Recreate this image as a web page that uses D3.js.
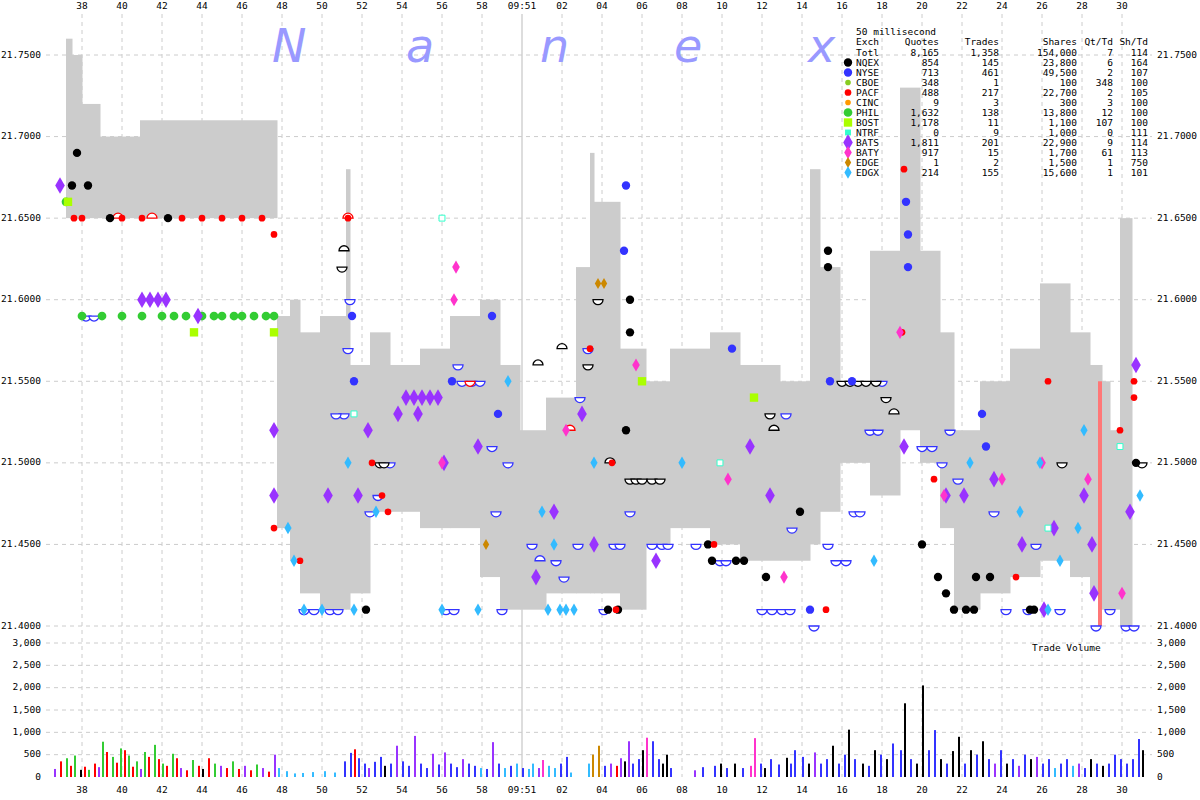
<!DOCTYPE html>
<html><head><meta charset="utf-8">
<script src="https://cdn.jsdelivr.net/npm/d3@7"></script>
<style>body{margin:0;background:#fff}text{font-family:"DejaVu Sans Mono",monospace;font-size:9.5px}</style>
</head><body><svg id="c" width="1200" height="800"></svg>
<script>
// time in seconds after 09:50:00
const tickVals = [38,40,42,44,46,48,50,52,54,56,58,60,62,64,66,68,70,72,74,76,78,80,82,84,86,88,90];
const tickLabels = ["38","40","42","44","46","48","50","52","54","56","58","09:51","02","04","06","08","10","12","14","16","18","20","22","24","26","28","30"];
const priceTicks = [21.40,21.45,21.50,21.55,21.60,21.65,21.70,21.75];
const volTicks = [0,500,1000,1500,2000,2500,3000];
// spread band: [t0, t1, bid, ask]
const band = [[37.2,37.5,21.65,21.76],[37.5,38.0,21.65,21.75],[38,38.9,21.65,21.72],[38.9,40.9,21.65,21.70],[40.9,47.75,21.65,21.71],
[47.75,48.4,21.46,21.59],[48.4,48.9,21.44,21.60],[48.9,49.9,21.42,21.58],[49.9,51.2,21.41,21.59],[51.2,51.4,21.41,21.68],[51.4,52.4,21.42,21.56],
[52.4,53.4,21.47,21.58],[53.4,54.9,21.47,21.56],[54.9,56.4,21.46,21.57],[56.4,57.9,21.46,21.59],[57.9,58.9,21.43,21.60],[58.9,59.9,21.41,21.56],
[59.9,61.2,21.41,21.52],[61.2,62.7,21.42,21.54],[62.7,63.4,21.42,21.62],[63.4,63.6,21.42,21.69],[63.6,64.9,21.42,21.66],[64.9,66.2,21.41,21.57],[66.2,67.4,21.45,21.55],
[67.4,69.4,21.46,21.57],[69.4,70.9,21.45,21.58],[70.9,72.9,21.44,21.56],[72.9,74.4,21.44,21.55],[74.4,74.9,21.45,21.68],[74.9,75.9,21.47,21.62],
[75.9,77.4,21.50,21.55],[77.4,78.9,21.48,21.63],[78.9,79.9,21.52,21.73],[79.9,80.9,21.50,21.63],[80.9,81.6,21.46,21.58],[81.6,82.9,21.41,21.52],
[82.9,84.4,21.42,21.55],[84.4,85.9,21.43,21.57],[85.9,87.4,21.44,21.61],[87.4,88.4,21.43,21.58],[88.4,89.0,21.42,21.56],[89.0,89.4,21.41,21.55],
[89.4,89.9,21.41,21.52],[89.9,90.5,21.40,21.65]];
const nqexT = [[37.5,21.67],[37.75,21.69],[38.3,21.67],[39.4,21.65],[42.3,21.65],[52.2,21.41],[64.3,21.41],[64.8,21.41],[65.4,21.60],[65.4,21.58],[65.2,21.52],
[69.3,21.45],[69.5,21.44],[70.7,21.44],[71.1,21.44],[72.2,21.43],[73.9,21.47],[75.3,21.63],[75.3,21.62],[80.0,21.45],[80.8,21.43],[81.2,21.42],[81.6,21.41],[82.2,21.41],[82.6,21.41],[82.7,21.43],[83.4,21.43],[85.4,21.41],[85.6,21.41],[90.7,21.50]];
const nyseT = [[51.5,21.59],[51.6,21.55],[58.5,21.59],[56.5,21.55],[58.8,21.53],[65.2,21.67],[65.1,21.63],[70.5,21.57],[75.4,21.55],[76.5,21.55],[79.2,21.66],[79.3,21.64],[79.3,21.62],[83.0,21.53],[83.2,21.51],[74.4,21.41]];
const pacfT = [[37.6,21.65],[38,21.65],[40,21.65],[41,21.65],[43,21.65],[44,21.65],[45,21.65],[46,21.65],[47,21.65],[47.6,21.64],[47.6,21.52],[47.6,21.46],[48.9,21.44],
[51.3,21.65],[52.5,21.50],[53.0,21.48],[53.3,21.47],[63.4,21.57],[64.5,21.50],[64.7,21.41],[69.6,21.45],[75.2,21.41],[79.1,21.68],[79.0,21.58],[80.6,21.49],[84.7,21.43],[86.3,21.55],[89.9,21.52],[90.6,21.55],[90.6,21.54]];
const philT = [[37.2,21.66],[38,21.59],[39,21.59],[40,21.59],[41,21.59],[42,21.59],[42.6,21.59],[43.2,21.59],[44,21.59],[44.6,21.59],[45,21.59],[45.6,21.59],[46,21.59],[46.6,21.59],[47.2,21.59],[47.6,21.59]];
const bostT = [[37.3,21.66],[43.6,21.58],[47.6,21.58],[66.0,21.55],[71.6,21.54]];
const batsT = [[36.9,21.67],[41.0,21.60],[41.4,21.60],[41.8,21.60],[42.2,21.60],[43.8,21.59],[47.6,21.52],[47.6,21.48],[50.3,21.48],[51.8,21.48],[52.3,21.52],[54.2,21.54],[54.6,21.54],[55.0,21.54],[55.4,21.54],[55.8,21.54],
[53.8,21.53],[54.8,21.53],[56.1,21.50],[57.8,21.51],[60.7,21.43],[61.6,21.47],[63.6,21.45],[63.0,21.53],[66.7,21.44],[71.4,21.51],[72.4,21.48],[79.1,21.51],[81.2,21.48],[82.1,21.48],[83.6,21.49],[85.0,21.45],[86.6,21.46],[86.1,21.41],[88.1,21.48],[88.6,21.42],[88.5,21.45],[90.4,21.47],[90.7,21.56]];
const batyT = [[56.7,21.62],[56.6,21.60],[56.0,21.50],[62.2,21.52],[65.7,21.56],[70.3,21.49],[73.1,21.43],[78.9,21.58],[81.1,21.48],[84.0,21.49],[86.0,21.50],[88.3,21.49],[90.0,21.42]];
const edgxT = [[48.3,21.46],[48.6,21.44],[49.1,21.41],[50.0,21.41],[51.6,21.41],[51.3,21.50],[52.7,21.47],[56.0,21.41],[57.8,21.41],[59.3,21.55],[61.0,21.47],[61.3,21.41],[61.6,21.45],[61.9,21.41],[62.2,21.41],[62.6,21.41],[63.6,21.50],[68.0,21.50],
[77.6,21.44],[82.4,21.50],[84.9,21.47],[85.9,21.50],[86.3,21.41],[86.9,21.44],[87.8,21.46],[88.1,21.52],[90.9,21.48]];
const edgeT = [[58.2,21.45],[63.8,21.61],[64.1,21.61]];
const ntrfT = [[56.0,21.65],[51.6,21.53],[69.9,21.50],[86.3,21.46],[89.9,21.51]];
const quotes = [[49.1,21.41,"nyse",1],[49.6,21.41,"nyse",1],[50.4,21.41,"nyse",1],[50.8,21.41,"nyse",1],[51.1,21.53,"nyse",1],[50.7,21.53,"nyse",1],[51.3,21.57,"nyse",1],[51.4,21.60,"nyse",1],
[52.4,21.47,"nyse",1],[52.8,21.48,"nyse",1],[53.4,21.50,"nyse",1],[56.2,21.41,"nyse",1],[56.6,21.41,"nyse",1],[56.8,21.56,"nyse",1],[57.0,21.55,"nyse",1],[57.5,21.55,"nyse",1],[57.9,21.55,"nyse",1],
[58.5,21.51,"nyse",1],[58.7,21.47,"nyse",1],[59.0,21.41,"nyse",1],[59.3,21.50,"nyse",1],[60.5,21.45,"nyse",1],[60.9,21.44,"nyse",-1],[61.7,21.44,"nyse",1],[62.1,21.43,"nyse",1],
[62.8,21.45,"nyse",1],[62.9,21.54,"nyse",1],[63.3,21.57,"nyse",1],[64.1,21.41,"nyse",1],[64.6,21.45,"nyse",1],[64.9,21.45,"nyse",1],[65.4,21.47,"nyse",1],[66.5,21.45,"nyse",1],[67.0,21.45,"nyse",1],[67.3,21.45,"nyse",1],
[68.7,21.45,"nyse",1],[69.9,21.44,"nyse",1],[70.2,21.44,"nyse",1],[72.0,21.41,"nyse",1],[72.5,21.41,"nyse",1],[73.0,21.41,"nyse",1],[73.4,21.41,"nyse",1],[73.2,21.53,"nyse",1],[73.5,21.46,"nyse",1],[74.6,21.40,"nyse",1],
[75.3,21.45,"nyse",1],[75.7,21.44,"nyse",1],[76.2,21.44,"nyse",1],[76.6,21.47,"nyse",1],[76.9,21.47,"nyse",1],[77.4,21.52,"nyse",1],[77.8,21.52,"nyse",1],[78.0,21.55,"nyse",1],[80.0,21.51,"nyse",1],[80.5,21.51,"nyse",1],[81.0,21.50,"nyse",1],
[81.4,21.52,"nyse",1],[81.8,21.49,"nyse",1],[83.6,21.47,"nyse",1],[84.2,21.41,"nyse",1],[85.3,21.41,"nyse",1],[85.7,21.45,"nyse",1],[86.9,21.41,"nyse",1],[88.7,21.40,"nyse",1],[89.4,21.41,"nyse",1],[90.2,21.40,"nyse",1],[90.6,21.40,"nyse",1],
[38.2,21.59,"nyse",1],[38.6,21.59,"nyse",1],
[51.0,21.62,"nqex",1],[51.1,21.63,"nqex",-1],[52.9,21.50,"nqex",1],[53.1,21.50,"nqex",1],[60.8,21.56,"nqex",-1],[62.0,21.57,"nqex",-1],[63.8,21.60,"nqex",1],[63.3,21.56,"nqex",1],[64.4,21.50,"nqex",-1],[65.4,21.49,"nqex",1],[65.7,21.49,"nqex",1],[66.0,21.49,"nqex",1],[66.5,21.49,"nqex",1],[66.9,21.49,"nqex",1],
[76.0,21.55,"nqex",1],[76.4,21.55,"nqex",1],[76.8,21.55,"nqex",1],[77.2,21.55,"nqex",1],[77.7,21.55,"nqex",1],[78.2,21.54,"nqex",1],[78.6,21.53,"nqex",-1],[72.4,21.53,"nqex",1],[72.6,21.52,"nqex",-1],[87.0,21.50,"nqex",1],[91.0,21.50,"nqex",1],
[39.8,21.65,"pacf",-1],[41.5,21.65,"pacf",-1],[51.3,21.65,"pacf",-1],[62.4,21.52,"pacf",-1],[57.4,21.55,"pacf",1]];
const volumes = [[36.6,180,"bats"],[36.9,350,"pacf"],[37.2,420,"phil"],[37.4,250,"pacf"],[37.6,480,"phil"],[37.9,160,"nqex"],[38.1,230,"pacf"],[38.3,160,"phil"],[38.6,300,"pacf"],[38.8,220,"bats"],[39.0,790,"phil"],[39.2,560,"pacf"],[39.5,450,"phil"],
[39.7,320,"pacf"],[39.9,640,"phil"],[40.1,600,"pacf"],[40.3,480,"phil"],[40.5,230,"pacf"],[40.7,350,"phil"],[40.9,180,"bats"],[41.1,560,"phil"],[41.3,450,"pacf"],[41.6,720,"phil"],[41.8,400,"pacf"],[42.0,300,"phil"],[42.2,250,"pacf"],
[42.5,520,"phil"],[42.7,420,"pacf"],[42.9,200,"bats"],[43.2,150,"pacf"],[43.5,380,"phil"],[43.8,250,"pacf"],[44.0,180,"nqex"],[44.3,420,"pacf"],[44.6,300,"phil"],[44.9,250,"bats"],[45.2,200,"pacf"],[45.5,350,"phil"],[45.8,180,"pacf"],
[46.1,250,"bats"],[46.4,150,"pacf"],[46.7,280,"phil"],[47.0,200,"bats"],[47.3,120,"pacf"],[47.6,500,"bats"],[47.8,200,"edgx"],[48.2,130,"edgx"],[48.6,80,"edgx"],[49.0,90,"edgx"],[49.5,110,"edgx"],[50.1,130,"edgx"],[50.6,100,"edgx"],
[51.1,350,"nyse"],[51.4,540,"nyse"],[51.6,620,"pacf"],[51.8,420,"nyse"],[52.1,300,"nyse"],[52.3,200,"bats"],[52.6,340,"nyse"],[52.9,450,"nyse"],[53.1,250,"nqex"],[53.4,300,"nyse"],[53.7,700,"bats"],[54.0,350,"nyse"],
[54.3,250,"nyse"],[54.6,920,"bats"],[54.9,300,"nyse"],[55.2,200,"nyse"],[55.5,520,"bats"],[55.8,280,"nyse"],[56.1,550,"bats"],[56.4,300,"nyse"],[56.7,220,"nyse"],[57.0,400,"bats"],[57.3,300,"nyse"],[57.6,250,"nyse"],
[57.9,200,"edgx"],[58.2,180,"nyse"],[58.5,780,"bats"],[58.8,300,"nyse"],[59.1,200,"edgx"],[59.4,250,"nyse"],[59.7,300,"edgx"],[60.0,200,"nyse"],[60.3,180,"edgx"],[60.5,300,"edgx"],[60.8,200,"bats"],[61.0,380,"baty"],
[61.3,250,"edgx"],[61.6,200,"edgx"],[61.9,300,"nyse"],[62.2,450,"nyse"],[62.4,100,"edgx"],[63.3,300,"edgx"],[63.5,500,"edge"],[63.8,700,"edge"],[64.1,250,"nyse"],[64.4,300,"bats"],[64.7,250,"pacf"],[64.9,420,"bats"],[65.1,350,"nqex"],
[65.3,800,"bats"],[65.5,300,"nyse"],[65.8,400,"nyse"],[66.0,600,"nqex"],[66.2,880,"baty"],[66.5,800,"nyse"],[66.8,400,"nyse"],[67.0,300,"nqex"],[67.2,500,"nqex"],[67.4,200,"nyse"],[68.6,150,"bats"],[69.0,220,"nyse"],[69.6,250,"nyse"],
[69.9,300,"nqex"],[70.2,200,"nyse"],[70.6,300,"nqex"],[71.0,200,"nyse"],[71.4,250,"baty"],[71.6,870,"baty"],[71.9,300,"nyse"],[72.1,200,"nqex"],[72.4,400,"nyse"],[72.8,280,"nyse"],[73.2,430,"nqex"],[73.4,300,"nyse"],[73.6,600,"nyse"],
[74.0,450,"nyse"],[74.3,300,"nqex"],[74.6,550,"bats"],[74.9,300,"nyse"],[75.2,400,"nyse"],[75.5,700,"nqex"],[75.8,300,"nyse"],[76.1,500,"nyse"],[76.3,1060,"nqex"],[76.6,400,"nyse"],[77.0,300,"nqex"],[77.3,250,"nyse"],[77.6,600,"nqex"],
[77.9,500,"nyse"],[78.2,400,"nqex"],[78.5,750,"nyse"],[78.9,600,"nyse"],[79.1,1650,"nqex"],[79.4,400,"nyse"],[79.7,300,"nqex"],[80.0,2050,"nqex"],[80.3,600,"nyse"],[80.6,1050,"nyse"],[80.9,400,"nqex"],[81.2,300,"nyse"],[81.5,580,"nqex"],
[81.8,900,"nqex"],[82.1,300,"nyse"],[82.4,600,"nqex"],[82.7,500,"nyse"],[83.0,800,"nqex"],[83.3,400,"nyse"],[83.6,300,"bats"],[83.9,600,"nyse"],[84.2,300,"nqex"],[84.5,400,"nyse"],[84.8,250,"bats"],[85.1,500,"nyse"],[85.4,400,"nqex"],
[85.7,450,"bats"],[86.0,300,"nyse"],[86.3,400,"nyse"],[86.6,200,"edgx"],[86.9,300,"nyse"],[87.2,400,"nyse"],[87.5,250,"edgx"],[87.8,300,"bats"],[88.1,200,"nyse"],[88.4,400,"nqex"],[88.7,300,"nyse"],[89.0,250,"nqex"],[89.3,300,"nyse"],
[89.6,500,"nyse"],[89.9,400,"nyse"],[90.2,300,"nyse"],[90.5,400,"nyse"],[90.8,850,"nyse"],[91.0,600,"nqex"]];
const legendRows = [["Totl","8,165","1,358","154,000","7","114",null],["NQEX","854","145","23,800","6","164","nqex"],["NYSE","713","461","49,500","2","107","nyse"],
["CBOE","348","1","100","348","100","cboe"],["PACF","488","217","22,700","2","105","pacf"],["CINC","9","3","300","3","100","cinc"],["PHIL","1,632","138","13,800","12","100","phil"],
["BOST","1,178","11","1,100","107","100","bost"],["NTRF","0","9","1,000","0","111","ntrf"],["BATS","1,811","201","22,900","9","114","bats"],["BATY","917","15","1,700","61","113","baty"],
["EDGE","1","2","1,500","1","750","edge"],["EDGX","214","155","15,600","1","101","edgx"]];
const colors = {nqex:"#000000",nyse:"#3333ff",cboe:"#88cc22",pacf:"#ff0000",cinc:"#ff9900",phil:"#33cc33",bost:"#aaff00",ntrf:"#33ffcc",bats:"#9933ff",baty:"#ff33cc",edge:"#cc8800",edgx:"#33bbff"};
const shapes = {nqex:"circle",nyse:"circle",cboe:"circle",pacf:"circle",cinc:"circle",phil:"circle",bost:"square",ntrf:"square",bats:"diamond",baty:"diamond",edge:"diamond",edgx:"diamond"};
const sizes = {nqex:55,nyse:55,cboe:25,pacf:35,cinc:25,phil:60,bost:70,ntrf:35,bats:80,baty:50,edge:35,edgx:45};

const svg = d3.select("#c");
const L=46,R=1152,T=14,VB=777;
const x = d3.scaleLinear().domain([36.2,91.5]).range([L,R]);
const y = d3.scaleLinear().domain([21.40,21.75]).range([626,55]);
const yv = d3.scaleLinear().domain([0,3000]).range([VB,643]);
const g = svg.append("g");
g.selectAll(".vg").data(tickVals).join("line").attr("x1",d=>x(d)).attr("x2",d=>x(d)).attr("y1",T).attr("y2",VB)
 .attr("stroke",d=>d===60?"#bbb":"#ccc").attr("stroke-dasharray",d=>d===60?null:"4,4");
g.selectAll(".hg").data(priceTicks).join("line").attr("x1",L).attr("x2",R).attr("y1",d=>y(d)).attr("y2",d=>y(d)).attr("stroke","#ccc").attr("stroke-dasharray","4,4");
g.selectAll(".vgh").data(volTicks.slice(1)).join("line").attr("x1",L).attr("x2",R).attr("y1",d=>yv(d)).attr("y2",d=>yv(d)).attr("stroke","#ccc").attr("stroke-dasharray","4,4");
["N","a","n","e","x"].forEach((c,i)=>svg.append("text").attr("x",272+i*134).attr("y",62).text(c).style("font-family","DejaVu Sans").style("font-size","46px").style("font-style","italic").attr("fill","#9999ff"));
g.selectAll(".band").data(band).join("rect").attr("x",d=>x(d[0])).attr("width",d=>x(d[1])-x(d[0])+0.5).attr("y",d=>y(d[3])).attr("height",d=>y(d[2])-y(d[3])).attr("fill","#cccccc");
g.append("rect").attr("x",x(88.9)-2).attr("width",4).attr("y",y(21.55)).attr("height",y(21.40)-y(21.55)).attr("fill","#ff7777");
const arcBowl = d3.arc()({innerRadius:0,outerRadius:5,startAngle:Math.PI/2,endAngle:Math.PI*1.5});
const arcDome = d3.arc()({innerRadius:0,outerRadius:5,startAngle:-Math.PI/2,endAngle:Math.PI/2});
g.selectAll(".q").data(quotes).join("path").attr("d",d=>d[3]===1?arcBowl:arcDome)
 .attr("transform",d=>`translate(${x(d[0])},${y(d[1])})`).attr("fill","#fff").attr("stroke",d=>colors[d[2]]).attr("stroke-width",1.3);
const sym = {circle:d3.symbolCircle,square:d3.symbolSquare,diamond:d3.symbolDiamond};
const trades = [["nqex",nqexT],["nyse",nyseT],["pacf",pacfT],["phil",philT],["bost",bostT],["bats",batsT],["baty",batyT],["edgx",edgxT],["edge",edgeT],["ntrf",ntrfT]];
trades.forEach(([ex,arr])=>{
  g.selectAll(".t"+ex).data(arr).join("path").attr("d",d3.symbol(sym[shapes[ex]],sizes[ex])())
   .attr("transform",d=>`translate(${x(d[0])},${y(d[1])})`).attr("fill",ex==="ntrf"?"#fff":colors[ex]).attr("stroke",ex==="ntrf"?colors[ex]:"none");
});
g.selectAll(".vb").data(volumes).join("rect").attr("x",d=>x(d[0])).attr("width",2).attr("y",d=>yv(d[1])).attr("height",d=>VB-yv(d[1])).attr("fill",d=>colors[d[2]]);
svg.append("text").attr("x",1032).attr("y",651).text("Trade Volume");
[6,790].forEach(yy=>svg.selectAll(null).data(tickVals).join("text").attr("x",d=>x(d)).attr("y",yy).attr("text-anchor","middle").attr("dominant-baseline","middle").text((d,i)=>tickLabels[i]));
const pf=d3.format(".4f"), vf=d3.format(",");
svg.selectAll(null).data(priceTicks).join("text").attr("x",41).attr("y",d=>y(d)).attr("text-anchor","end").attr("dominant-baseline","middle").text(pf);
svg.selectAll(null).data(priceTicks).join("text").attr("x",1157).attr("y",d=>y(d)).attr("dominant-baseline","middle").text(pf);
svg.selectAll(null).data(volTicks).join("text").attr("x",41).attr("y",d=>yv(d)).attr("text-anchor","end").attr("dominant-baseline","middle").text(vf);
svg.selectAll(null).data(volTicks).join("text").attr("x",1157).attr("y",d=>yv(d)).attr("dominant-baseline","middle").text(vf);
const lg = svg.append("g");
lg.append("text").attr("x",856).attr("y",35).text("50 millisecond");
const cols=[856,939,999,1077,1113,1148];
["Exch","Quotes","Trades","Shares","Qt/Td","Sh/Td"].forEach((h,i)=>lg.append("text").attr("x",cols[i]).attr("y",45).attr("text-anchor",i===0?"start":"end").text(h));
legendRows.forEach((r,j)=>{
  const yy=56+j*10;
  r.slice(0,6).forEach((v,i)=>lg.append("text").attr("x",cols[i]).attr("y",yy).attr("text-anchor",i===0?"start":"end").text(v));
  if(r[6]) lg.append("path").attr("d",d3.symbol(sym[shapes[r[6]]],sizes[r[6]])()).attr("transform",`translate(848,${yy-3.5})`).attr("fill",colors[r[6]]);
});
</script></body></html>
